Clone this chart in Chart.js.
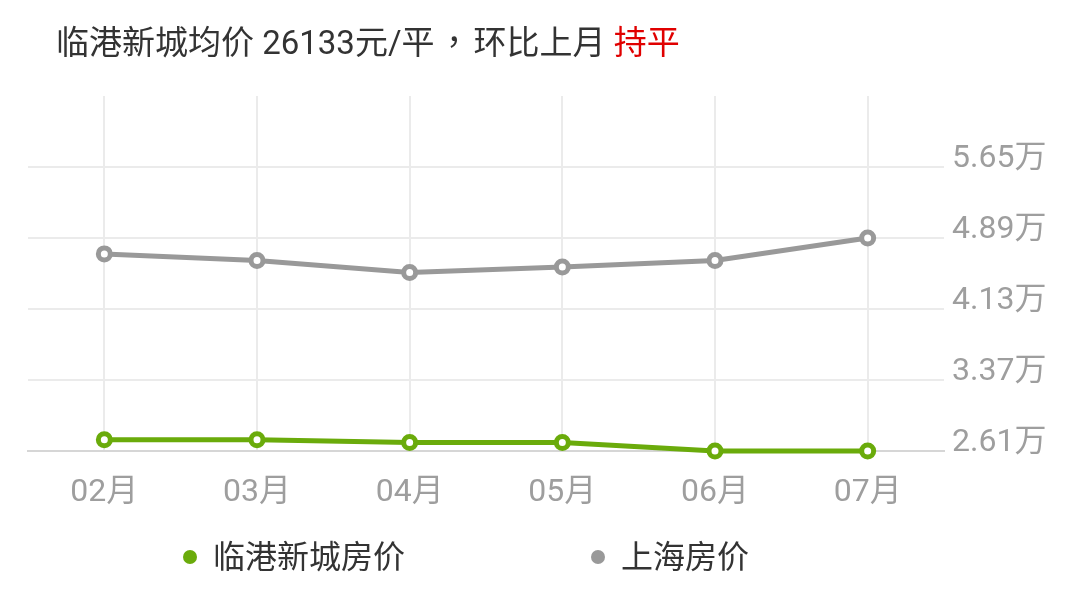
<!DOCTYPE html>
<html>
<head>
<meta charset="utf-8">
<script src="https://cdn.jsdelivr.net/npm/chart.js@4.4.1/dist/chart.umd.min.js"></script>
<style>
  body { margin: 0; background: #fff; font-family: Roboto, "Noto Sans CJK SC", sans-serif; }
  #wrap { position: relative; width: 1080px; height: 606px; overflow: hidden; }
  #chart { position: absolute; left: 0; top: 0; }
  #title { position: absolute; left: 56px; top: 20px; font-size: 33px; line-height: 40px; color: #333; white-space: nowrap; }
  #title .comma { font-family: "Noto Sans CJK TC", sans-serif; margin: 0 3px; }
  #title .flat { color: #e00000; }
  #legend { position: absolute; left: 183px; top: 537px; display: flex; align-items: center; height: 40px; }
  .item { display: flex; align-items: center; font-size: 32px; line-height: 40px; color: #333; white-space: nowrap; }
  .item + .item { margin-left: 186px; }
  .dot { width: 14px; height: 14px; border-radius: 50%; margin-right: 16px; }
</style>
</head>
<body>
<div id="wrap">
  <canvas id="chart" width="1080" height="606"></canvas>
  <div id="title"></div>
  <div id="legend"></div>
</div>
<script>
const months = ["02月", "03月", "04月", "05月", "06月", "07月"];
const lingangPrice = [2.73, 2.73, 2.70, 2.70, 2.61, 2.61];
const shanghaiPrice = [4.72, 4.65, 4.52, 4.58, 4.65, 4.89];
const yTicks = [2.61, 3.37, 4.13, 4.89, 5.65];
const yMin = 2.61;
const yMax = 6.41;
const seriesNames = ["临港新城房价", "上海房价"];
const avgPrice = 26133;
const trend = "持平";

const green = "#6aab0b";
const gray = "#999999";
const tickColor = "#9e9e9e";
const gridColor = "#ebebeb";
const baseColor = "#d6d6d6";
const fontFamily = 'Roboto, "Noto Sans CJK SC", sans-serif';

document.querySelector("#title").innerHTML =
  `临港新城均价 ${avgPrice}元/平<span class="comma">，</span>环比上月 <span class="flat">${trend}</span>`;

const legend = document.querySelector("#legend");
[green, gray].forEach((color, i) => {
  legend.insertAdjacentHTML(
    "beforeend",
    `<div class="item"><span class="dot" style="background:${color}"></span>${seriesNames[i]}</div>`
  );
});

new Chart(document.getElementById("chart"), {
  type: "line",
  data: {
    labels: months,
    datasets: [
      {
        label: seriesNames[0],
        data: lingangPrice,
        borderColor: green,
        borderWidth: 5,
        pointRadius: 6,
        pointBorderWidth: 5,
        pointBackgroundColor: "#fff",
        pointBorderColor: green,
        tension: 0,
        clip: false,
      },
      {
        label: seriesNames[1],
        data: shanghaiPrice,
        borderColor: gray,
        borderWidth: 5,
        pointRadius: 6,
        pointBorderWidth: 5,
        pointBackgroundColor: "#fff",
        pointBorderColor: gray,
        tension: 0,
        clip: false,
      },
    ],
  },
  options: {
    responsive: false,
    animation: false,
    layout: { padding: { left: 28, top: 96, right: 0, bottom: 0 } },
    plugins: { legend: { display: false }, tooltip: { enabled: false } },
    scales: {
      x: {
        offset: true,
        grid: { offset: false, color: gridColor, lineWidth: 2, drawTicks: false },
        border: { color: baseColor, width: 2 },
        ticks: { color: tickColor, font: { size: 32, family: fontFamily }, padding: 23 },
        afterFit: (s) => { s.height = 155; },
      },
      y: {
        position: "right",
        min: yMin,
        max: yMax,
        afterBuildTicks: (s) => { s.ticks = yTicks.map((v) => ({ value: v })); },
        grid: {
          color: (c) => (c.tick && c.tick.value === yMin ? baseColor : gridColor),
          lineWidth: 2,
          drawTicks: false,
        },
        border: { display: false },
        ticks: {
          color: tickColor,
          font: { size: 32, family: fontFamily },
          padding: 8,
          labelOffset: -8,
          callback: (v) => Number(v).toFixed(2) + "万",
        },
        afterFit: (s) => { s.width = 136; },
      },
    },
  },
});
</script>
</body>
</html>
